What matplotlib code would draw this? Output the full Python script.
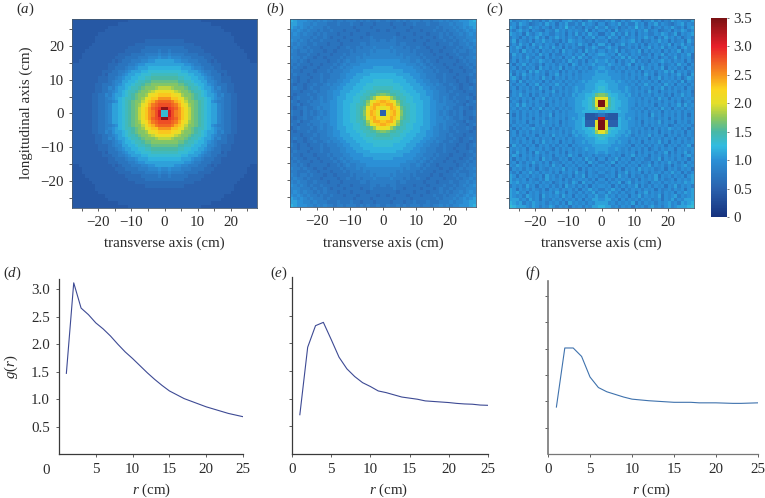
import numpy as np
import matplotlib
matplotlib.use("Agg")
import matplotlib.pyplot as plt
from matplotlib.colors import LinearSegmentedColormap, Normalize
from matplotlib.cm import ScalarMappable

plt.rcParams["font.family"] = ["Liberation Serif", "DejaVu Serif"]
plt.rcParams["mathtext.fontset"] = "custom"
plt.rcParams["mathtext.rm"] = "Liberation Serif"
plt.rcParams["mathtext.it"] = "Liberation Serif:italic"
plt.rcParams["font.size"] = 10.8
plt.rcParams["text.color"] = "#2b2b2b"
plt.rcParams["xtick.labelcolor"] = "#2b2b2b"
plt.rcParams["ytick.labelcolor"] = "#2b2b2b"

W, H = 765, 498

# heat maps, one character per 1 cm cell, base 36 in tenths (a = 1.0, z = 3.5)
# quadrant read outward from the centre: row = |y|, column = |x|
QUADRANT_A = [
    "dvsqpnljhg fedcbb9877 66555555",
    "ytsrpnljhg fedcbb9877 66555555",
    "ssrqomkihg fedcbb9877 66555555",
    "rrqonljhhg fedca98877 66555555",
    "ppnnlkihgf eedcba9877 66555555",
    "nnmlkihhgf edcbba8977 66555555",
    "llkjihhgfe edcba98776 65555555",
    "jjihhhgfee dcbba89776 65555555",
    "hhhhggfeed ccba987776 65555555",
    "ggggffeedc cbb9987666 55555555",
    "ffffeeddcc bba9877666 55555555",
    "eeeedddccb ba98777565 55555555",
    "dddddccbbb a988776665 55555555",
    "cccccbbba9 9877766555 55555555",
    "bbbbbbaa98 8777666555 55555555",
    "bbbaa99888 7776565555 55555544",
    "9a99988877 7766655555 55555444",
    "8988887777 6666555555 55555444",
    "7877777666 6655555555 55554444",
    "7777776666 6555555555 55544444",
    "6666666665 5555555555 55444444",
    "6666665555 5555555555 54444444",
    "5555555555 5555555555 54444444",
    "5555555555 5555555555 44444444",
    "5555555555 5555555544 44444444",
    "5555555555 5555555444 44444444",
    "5555555555 5555444444 44444444",
    "5555555555 5444444444 44444444",
]
QUADRANT_B = [
    "5knolhfedd ccbbaa9898 78786778",
    "kmonkgfedd ccbbaa9989 87787767",
    "noolifeedd ccbbaa9998 88776877",
    "onlkhfeddc ccbbaa9898 87877678",
    "lkigfeeddc cbbba99898 78777876",
    "hgffeeddcc cbbaa99888 77877767",
    "ffeeeddccc bbbaa99887 87776777",
    "eeedddcccb bbaa998887 78767787",
    "dddddcccbb baa9989877 87767767",
    "dddccccbbb aa99888787 77677678",
    "ccccccbbba a998887787 76777677",
    "ccccbbbbaa a998887787 77677787",
    "bbbbbbaaaa 9988878777 67776778",
    "bbbaaaaaa9 9898787776 77767787",
    "aaaaaaa999 8987877767 76777878",
    "aaaaa99988 9878776777 77678788",
    "9999998988 8787777677 67787889",
    "9999898888 7877767776 77877788",
    "9989888878 7777677677 78788789",
    "8898887877 8776777767 77878898",
    "8888788777 7767776777 87788989",
    "8788777776 7776777787 7878989a",
    "7778776777 7677767877 87888999",
    "7777677776 7776777878 788989a9",
    "7677777677 7677787787 88989a9a",
    "7776777767 7777778788 8989a9ab",
    "7767776778 7778777888 9899aabb",
    "7877878788 8788788989 899aaabc",
]
# right half read top to bottom, y = 27.5 ... -27.5, column = |x|
HALF_C = [
    "8a9b87a 89baa79 9b8a798 b9a998b",
    "a79a9b8 a88b9a7 a9b8a98 79ab8a9",
    "9b89a79 8a9c9a8 a79a8a9 b98a7ab",
    "a8a7b89 a9a8a9b 89a789a 7a9ba8a",
    "7a9b8a8 b8a7a9a 88a9ba8 9b7a9ab",
    "a8b9a7a 89a8a9b 9a7a8b9 a8a79a8",
    "9a7989a 9ab8a79 8a9b9a7 a89a7b9",
    "b8a7a9b 8a9a8a7 a9a8a9b 7a9b8a8",
    "8ab9a78 9a8a7a9 b8a9b8a 9a7ab9a",
    "a8a9b7a 89a9b7a 8a9a7a8 a9b7a9a",
    "ba9a7b9 a8a9a88 a7a9b8a 9a8a9b7",
    "9aa8a9b 8b9a7a9 a8a79a8 9b8a9a7",
    "ab9a7a8 a9b8a89 7a9ab9a 8a9a7a8",
    "a9ba9a8 ab7a9a8 a9a7a89 a8b9a7a",
    "baa8a9a 8a9a7b9 a8a9b7a 9a8a7a9",
    "abaa9a8 a9a8a7a 9a8a9b9 b7a9a8a",
    "bbaaaa9 a8a9a8b 9a7a9a8 a9b8a7b",
    "bbbaaa9 a9a8a9a 7a9b8a9 a8a79ba",
    "cbbbaba 9a9a8a9 a8a7a9a 9a8b7a9",
    "ccbbbaa a9a8a9b 9a9a8b9 a7a9a8a",
    "dcbbbaa ba9a8a9 a7a9b8a 8a9a7a9",
    "dccbbba ba9a9a8 b9a7a9a 9a8a9a7",
    "hgdccbb ab9a8a9 a8a9a8a 7a9b9a8",
    "kkfdcbb baa9a8a 9a8b9a7 a9a8a9a",
    "zkfdccb baa9a9a 8a9a8a9 a8a79a8",
    "zkfdccb baa8a9a 9a7a9a8 a9b8b9a",
    "khedcbb ba9a9a8 a9a8b9a 7a9a8a9",
    "bcccccb baa9a8a 8a9a7a9 a9a8a9a",
    "75444bb aaa9a9a 7b9a8a9 a8a8a7a",
    "w4444cb aba8a9a 9a8a9a7 a9a8a9a",
    "zk555cb baa9a7a 9a9b8a9 a7a9a8a",
    "zk555cb baa9a8a 8a9a9a7 8a9a9a8",
    "zkedccb ba9a9a8 a7a8a9b a9a8a7a",
    "kidccbb ab9a8a9 a9a7a9a 8a9a7a9",
    "edccbba ba8a9a9 b8a9a7a 9a8a8a9",
    "dcbbbaa a9a8a9a 7a9a8a9 a7a9a8a",
    "ccbbaba a8a9a7a 9a9b8a7 a9a8a9a",
    "bbbaaaa 9a7a9a8 a8a9a7a 9a8a9b7",
    "bbaaba9 a8a9a8a 79a8a9a a7a9a9a",
    "abaa9a9 a9a7a8a 9a8a9b7 a8a9b8a",
    "9a8a9a7 a9b8a9a 7a9a8a8 a9a7ab9",
    "a7a9b8a 9a7a9a8 8a9b7a9 a8a9a7a",
    "8a9b7a9 a8a9a89 a7a8a9b 9a8a7a9",
    "a8a7a9a 8a9a7a9 b8a9a8a 7a9ab9a",
    "9a9a8a7 a9a8b9a 9a89a7a 9a8a9a7",
    "a89a7a9 b8a9a7a 8a9a8a9 b9a7a8a",
    "8a9a7b9 a7a89a8 a9b7a9a 8a9a7ab",
    "a7a8a9a 9a8a7a9 a9b8a89 a7a9a9b",
    "9a8a9b7 ab8a9a9 7a9a8a9 a9a9bab",
    "a9a7a8a 8a9b7a8 a8a9a7a 9b8a9a8",
    "8a9b9a7 a8a9a8a 9a7a89a 8a9a7ab",
    "a8b9a8a 89a7a9b 8a9a8a9 a7a9bab",
    "9b9a8a9 a7a9b8a 9a9b7a9 ab8a9ab",
    "abb9a7a 8a9a8a9 a89a7a9 b8a9bbb",
    "bb9a8a9 a9b7a8a 9a8a9ab 9a8babc",
    "cbb9a8a 9a7a9a8 ab9a8ab 9abbbcd",
]

# radial curves
R_CM = list(range(1, 26))
G_D = [1.47, 3.12, 2.66, 2.54, 2.39, 2.28, 2.15, 2.00, 1.86, 1.74, 1.61, 1.48, 1.36,
       1.25, 1.15, 1.08, 1.01, 0.96, 0.91, 0.86, 0.82, 0.78, 0.74, 0.71, 0.68]
G_E = [0.71, 1.93, 2.32, 2.38, 2.07, 1.75, 1.54, 1.40, 1.29, 1.22, 1.14, 1.11, 1.07,
       1.03, 1.01, 0.99, 0.96, 0.95, 0.94, 0.93, 0.915, 0.905, 0.90, 0.885, 0.88]
G_F = [0.89, 2.01, 2.01, 1.85, 1.46, 1.26, 1.18, 1.13, 1.08, 1.04, 1.025, 1.01, 1.00,
       0.99, 0.98, 0.98, 0.98, 0.97, 0.97, 0.97, 0.965, 0.96, 0.96, 0.965, 0.97]

HEAT_TICKS = [-20, -10, 0, 10, 20]
HEAT_MINOR = [-25, -15, -5, 5, 15, 25]
CBAR_TICKS = [0, 0.5, 1.0, 1.5, 2.0, 2.5, 3.0, 3.5]
CBAR_LABELS = ["0", "0.5", "1.0", "1.5", "2.0", "2.5", "3.0", "3.5"]
G_TICKS = [0.5, 1.0, 1.5, 2.0, 2.5, 3.0]
R_TICKS = [0, 5, 10, 15, 20, 25]

CMAP = LinearSegmentedColormap.from_list(
    "heat",
    [(0 / 3.5, "#16327e"), (0.5 / 3.5, "#2a62ae"), (1.0 / 3.5, "#2b90d6"),
     (1.25 / 3.5, "#32bce0"), (1.5 / 3.5, "#49b8a5"), (1.75 / 3.5, "#8fc85a"),
     (2.0 / 3.5, "#e4df2a"), (2.25 / 3.5, "#fbd51e"), (2.5 / 3.5, "#f7941e"),
     (3.0 / 3.5, "#e8202a"), (3.5 / 3.5, "#7b1113")],
)
NORM = Normalize(0, 3.5)
EDGES = np.arange(-28, 29)


def decode(rows):
    return np.array([[int(c, 36) / 10 for c in r.replace(" ", "")] for r in rows])


def full_from_quadrant(rows):
    q = decode(rows)
    top = np.hstack([q[:, ::-1], q])
    return np.vstack([top[::-1], top])  # y increasing with the row index


def full_from_half(rows):
    h = decode(rows)[::-1]  # bottom row first
    return np.hstack([h[:, ::-1], h])


def px_axes(fig, left, right, top, bottom):
    return fig.add_axes([left / W, 1 - bottom / H, (right - left) / W, (bottom - top) / H])


def px_text(fig, x, y, s, **kw):
    kw.setdefault("ha", "center")
    kw.setdefault("va", "center")
    fig.text(x / W, 1 - y / H, s, **kw)


def heat_panel(fig, rect, grid, show_y=False):
    ax = px_axes(fig, *rect)
    ax.pcolormesh(EDGES, EDGES, grid, cmap=CMAP, norm=NORM, rasterized=True)
    ax.set_xlim(-28, 28)
    ax.set_ylim(-28, 28)
    ax.set_xticks(HEAT_TICKS)
    ax.set_xticks(HEAT_MINOR, minor=True)
    ax.set_yticks(HEAT_TICKS)
    ax.set_yticks(HEAT_MINOR, minor=True)
    ax.tick_params(which="both", length=2.2, width=0.6, color="#444444", pad=3.5)
    if not show_y:
        ax.tick_params(axis="y", labelleft=False)
    for s in ax.spines.values():
        s.set_linewidth(0.6)
        s.set_color("#44586e")
    return ax


def curve_panel(fig, rect, values, y_top, color, spine_color="#3a3a3a", spine_w=0.9, show_y=False):
    ax = px_axes(fig, *rect)
    ax.plot(R_CM, values, color=color, lw=0.8)
    ax.set_xlim(0, 25)
    ax.set_ylim(0, y_top)
    ax.set_xticks(R_TICKS)
    ax.set_yticks(G_TICKS)
    ax.tick_params(length=2.5, width=0.6, color="#444444", pad=4)
    if not show_y:
        ax.tick_params(axis="y", labelleft=False)
    ax.spines["top"].set_visible(False)
    ax.spines["right"].set_visible(False)
    ax.spines["left"].set_linewidth(spine_w)
    ax.spines["left"].set_color(spine_color)
    ax.spines["bottom"].set_linewidth(0.9)
    ax.spines["bottom"].set_color(spine_color)
    return ax


fig = plt.figure(figsize=(W / 100, H / 100), dpi=100)

heat_panel(fig, (72, 257, 19, 208), full_from_quadrant(QUADRANT_A), show_y=True)
heat_panel(fig, (290, 476, 19, 207), full_from_quadrant(QUADRANT_B))
heat_panel(fig, (509, 694, 19, 208), full_from_half(HALF_C))

cax = px_axes(fig, 711, 727, 18, 217)
cb = fig.colorbar(ScalarMappable(norm=NORM, cmap=CMAP), cax=cax)
cb.set_ticks(CBAR_TICKS)
cb.set_ticklabels(CBAR_LABELS)
cb.outline.set_visible(False)
cax.tick_params(length=1.5, width=0.5, color="#444444", pad=3)

ax_d = curve_panel(fig, (59, 243, 279, 454), G_D, 3.19, "#3d4a94", show_y=True)
ax_d.set_xticks(R_TICKS[1:])
ax_d.annotate("0", (0, 0), xytext=(-9, -7), textcoords="offset points", ha="center", va="top", annotation_clip=False)
curve_panel(fig, (292, 488, 277, 454), G_E, 3.2, "#3d4a94")
curve_panel(fig, (548, 758, 281, 454), G_F, 3.28, "#3f72ad", spine_color="#777777", spine_w=1.2)

for x in (164, 383, 601):
    px_text(fig, x, 243, "transverse axis (cm)")
for x in (152, 389, 652):
    px_text(fig, x, 490, r"$\mathit{r}$ (cm)")
px_text(fig, 26, 113, "longitudinal axis (cm)", rotation=90)
px_text(fig, 11, 367, r"$\mathit{g}(\mathit{r})$", rotation=90)

for x, y, s in [(25, 9, "a"), (275, 9, "b"), (495, 9, "c"),
                (12, 273, "d"), (279, 273, "e"), (533, 273, "f")]:
    px_text(fig, x, y, rf"($\mathit{{{s}}}$)")

fig.savefig("out.png", dpi=100)
